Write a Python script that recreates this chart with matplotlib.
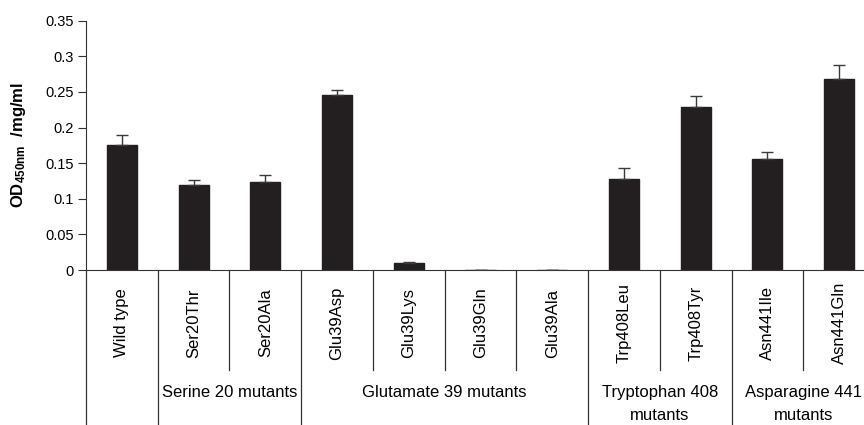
import numpy as np
import matplotlib.pyplot as plt
from matplotlib import transforms

plt.rcParams['font.family'] = ['Liberation Sans', 'DejaVu Sans']
plt.rcParams['mathtext.fontset'] = 'custom'
plt.rcParams['mathtext.rm'] = 'Liberation Sans'
plt.rcParams['mathtext.bf'] = 'Liberation Sans:bold'

mutants = ["Wild type", "Ser20Thr", "Ser20Ala", "Glu39Asp", "Glu39Lys", "Glu39Gln",
           "Glu39Ala", "Trp408Leu", "Trp408Tyr", "Asn441Ile", "Asn441Gln"]
od_per_mg = [0.175, 0.120, 0.123, 0.245, 0.010, 0.0, 0.0, 0.128, 0.229, 0.156, 0.268]
od_err = [0.014, 0.007, 0.011, 0.008, 0.001, 0.0, 0.0, 0.015, 0.015, 0.009, 0.020]

# (label, first index, last index) for the second row of the category axis
groups = [("Serine 20 mutants", 1, 2),
          ("Glutamate 39 mutants", 3, 6),
          ("Tryptophan 408\nmutants", 7, 8),
          ("Asparagine 441\nmutants", 9, 10)]

W, H = 864, 425
fig = plt.figure(figsize=(W / 100, H / 100), dpi=100)
# axis runs a little past the right edge of the figure
ax = fig.add_axes([86 / W, (H - 270) / H, 789 / W, 249.3 / H])

x = np.arange(len(mutants))
bar_col = "#231f20"
ax.bar(x, od_per_mg, width=0.42, color=bar_col, edgecolor=bar_col, zorder=2)
ax.errorbar(x, od_per_mg, yerr=[np.zeros(len(x)), od_err], fmt="none",
            ecolor="#3a3a3a", elinewidth=1, capsize=4, capthick=1, zorder=3)

ax.set_xlim(-0.5, len(mutants) - 0.5)
ax.set_ylim(0, 0.35)
ax.set_yticks(np.arange(0, 0.351, 0.05))
ax.set_yticklabels(["0", "0.05", "0.1", "0.15", "0.2", "0.25", "0.3", "0.35"])
ax.tick_params(axis="y", direction="out", length=6, width=0.8, labelsize=10.5, pad=3,
               color="#333333")
ax.set_xticks([])
for s in ["top", "right"]:
    ax.spines[s].set_visible(False)
ax.spines["left"].set_color("#333333")
ax.spines["bottom"].set_color("#333333")

ax.set_ylabel(r"$\mathbf{OD_{450nm}}$  /mg/ml", fontsize=12, fontweight="bold")
ax.yaxis.set_label_coords((28 - 86) / 789, 0.5)

# category table under the axis
trans = transforms.blended_transform_factory(ax.transData, fig.transFigure)
fy = lambda py: (H - py) / H
group_edges = [-0.5, 0.5] + [g[2] + 0.5 for g in groups]
for xe in np.arange(-0.5, len(mutants), 1.0):
    bottom = 0.0 if xe in group_edges else fy(370)
    ax.plot([xe, xe], [fy(270), bottom], transform=trans, color="#333333",
            lw=0.9, clip_on=False)

for xi, name in zip(x, mutants):
    ax.text(xi, fy(323), name, transform=trans, rotation=90, ha="center",
            va="center", fontsize=12)

for name, a, b in groups:
    ax.text((a + b) / 2, fy(385), name, transform=trans, ha="center", va="top",
            fontsize=12, linespacing=1.7)

plt.savefig("out.png", dpi=100)
